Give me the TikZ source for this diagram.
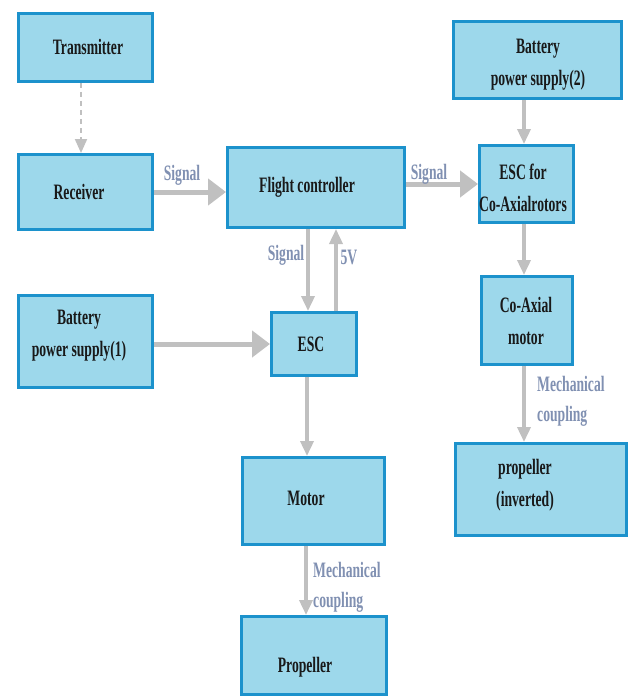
\documentclass[tikz,border=0pt]{standalone}
\usepackage{fontspec}
\newfontfamily\nf{Liberation Serif}[FakeStretch=0.62]
\usetikzlibrary{arrows.meta}
\definecolor{boxfill}{RGB}{157,216,235}
\definecolor{boxdraw}{RGB}{28,146,204}
\definecolor{arr}{RGB}{192,192,192}
\definecolor{lbl}{RGB}{128,144,178}
\tikzset{
 blk/.style={draw=boxdraw, fill=boxfill, line width=3pt, inner sep=0pt},
 txt/.style={font=\nf\bfseries\fontsize{22}{32}\selectfont, align=center, text=black!90, inner sep=0pt},
 big/.style={draw=arr, line width=5pt, -{Triangle[width=26pt,length=18pt]}},
 sml/.style={draw=arr, line width=3.5pt, -{Triangle[width=13pt,length=15pt]}},
 dsh/.style={draw=arr, line width=2pt, dash pattern=on 5pt off 4pt, -{Triangle[width=12pt,length=14pt]}},
 lab/.style={text=lbl, font=\nf\bfseries\fontsize{22}{30}\selectfont, inner sep=0pt, align=left},
}
\begin{document}
\begin{tikzpicture}[x=1pt,y=-1pt]
\path[fill=white,use as bounding box] (0,0) rectangle (629,698);
% boxes
\node[blk, minimum width=134pt, minimum height=68pt] (tx) at (85.5,47.5) {};
\node[blk, minimum width=134pt, minimum height=75pt] (rx) at (85.5,192) {};
\node[blk, minimum width=177pt, minimum height=80pt] (fc) at (316,187.5) {};
\node[blk, minimum width=94pt, minimum height=77pt] (escc) at (526.5,184) {};
\node[blk, minimum width=168pt, minimum height=77pt] (bat2) at (537.5,60) {};
\node[blk, minimum width=134pt, minimum height=92pt] (bat1) at (85.5,341.5) {};
\node[blk, minimum width=85pt, minimum height=63pt] (esc) at (314,344) {};
\node[blk, minimum width=91pt, minimum height=88pt] (cmot) at (527,320.5) {};
\node[blk, minimum width=171pt, minimum height=92pt] (pinv) at (541,489.5) {};
\node[blk, minimum width=142pt, minimum height=87pt] (motor) at (313.5,501) {};
\node[blk, minimum width=145pt, minimum height=78pt] (prop) at (314,655.5) {};
% texts
\node[txt] (txt1) at (88,47) {Transmitter};
\node[txt] (txt2) at (79,192) {Receiver};
\node[txt] (txt3) at (307,187) {Flight controller};
\node[txt] (txt4) at (523,188) {ESC for\\Co-Axialrotors};
\node[txt] (txt5) at (538,65) {Battery\\power supply(2)};
\node[txt] (txt6) at (79,336) {Battery\\power supply(1)};
\node[txt] (txt7) at (311,344) {ESC};
\node[txt] (txt8) at (526,321) {Co-Axial\\motor};
\node[txt] (txt9) at (525,485) {propeller\\(inverted)};
\node[txt] (txt10) at (306,498) {Motor};
\node[txt] (txt11) at (305,667) {Propeller};
% connectors
\draw[dsh] ([xshift=-4.5pt]tx.south) -- ([xshift=-4.5pt]tx.south |- rx.north);
\draw[big] (rx.east) -- (rx.east -| fc.west);
\draw[big] (escc.west -| fc.east) -- (escc.west);
\draw[sml] ([xshift=-6pt]esc.north |- fc.south) -- ([xshift=-6pt]esc.north);
\draw[sml] ([xshift=22pt]esc.north) -- ([xshift=22pt]esc.north |- fc.south);
\draw[big] (bat1.east |- esc.west) -- (esc.west);
\draw[sml] ([xshift=-7pt]esc.south) -- ([xshift=-7pt]esc.south |- motor.north);
\draw[sml] ([xshift=-7.5pt]motor.south) -- ([xshift=-7.5pt]motor.south |- prop.north);
\draw[sml] ([xshift=-2.5pt]escc.north |- bat2.south) -- ([xshift=-2.5pt]escc.north);
\draw[sml] ([xshift=-2.5pt]escc.south) -- ([xshift=-2.5pt]escc.south |- cmot.north);
\draw[sml] ([xshift=-3pt]cmot.south) -- ([xshift=-3pt]cmot.south |- pinv.north);
% labels
\node[lab] (l1) at (182,175) {Signal};
\node[lab] (l2) at (429,174) {Signal};
\node[lab] (l3) at (286,255) {Signal};
\node[lab] (l4) at (349,257) {5V};
\node[lab, anchor=west] (l5) at (537,401) {Mechanical\\coupling};
\node[lab, anchor=west] (l6) at (313,587.5) {Mechanical\\coupling};
\end{tikzpicture}
\end{document}
